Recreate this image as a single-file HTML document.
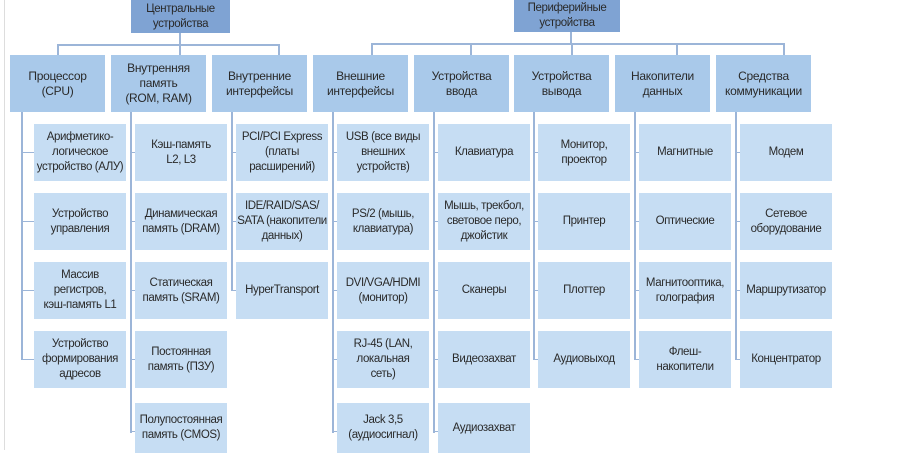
<!DOCTYPE html>
<html><head><meta charset="utf-8"><style>
body{margin:0;width:900px;height:450px;background:#fff;position:relative;overflow:hidden;font-family:"Liberation Sans","Noto Sans CJK SC",sans-serif;}
.b{position:absolute;display:flex;align-items:center;justify-content:center;text-align:center;font-size:11.5px;line-height:15px;color:#2a2a2a;letter-spacing:-0.4px;white-space:nowrap}
.t{background:#7fa3d3;}
.h{background:#a9c9ea;font-size:12px;line-height:15px;letter-spacing:-0.3px}
.c{background:#c6ddf3;}
.l{position:absolute;background:#9cb5d8;}
</style></head><body>
<div class="l" style="left:4px;top:0;width:1px;height:450px;background:#ddd"></div>
<div class="b t" style="left:131px;top:0;width:99px;height:33px">Центральные<br>устройства</div>
<div class="b t" style="left:514px;top:0;width:106px;height:32px">Периферийные<br>устройства</div>
<div class="l" style="left:179px;top:33px;width:2px;height:12px"></div>
<div class="l" style="left:57px;top:44px;width:223px;height:2px"></div>
<div class="l" style="left:570px;top:32px;width:2px;height:12px"></div>
<div class="l" style="left:371px;top:43px;width:414px;height:2px"></div>
<div id="g"></div>
<script>
var cols=[
["Процессор<br>(CPU)",["Арифметико-<br>логическое<br>устройство (АЛУ)","Устройство<br>управления","Массив<br>регистров,<br>кэш-память L1","Устройство<br>формирования<br>адресов"]],
["Внутренняя<br>память<br>(ROM, RAM)",["Кэш-память<br>L2, L3","Динамическая<br>память (DRAM)","Статическая<br>память (SRAM)","Постоянная<br>память (ПЗУ)","Полупостоянная<br>память (CMOS)"]],
["Внутренние<br>интерфейсы",["PCI/PCI Express<br>(платы<br>расширений)","IDE/RAID/SAS/<br>SATA (накопители<br>данных)","HyperTransport"]],
["Внешние<br>интерфейсы",["USB (все виды<br>внешних<br>устройств)","PS/2 (мышь,<br>клавиатура)","DVI/VGA/HDMI<br>(монитор)","RJ-45 (LAN,<br>локальная<br>сеть)","Jack 3,5<br>(аудиосигнал)"]],
["Устройства<br>ввода",["Клавиатура","Мышь, трекбол,<br>световое перо,<br>джойстик","Сканеры","Видеозахват","Аудиозахват"]],
["Устройства<br>вывода",["Монитор,<br>проектор","Принтер","Плоттер","Аудиовыход"]],
["Накопители<br>данных",["Магнитные","Оптические","Магнитооптика,<br>голография","Флеш-<br>накопители"]],
["Средства<br>коммуникации",["Модем","Сетевое<br>оборудование","Маршрутизатор","Концентратор"]]];
var xs=[10,111,212,313,414,514,615,716],stubs=[57,179,278,371,470,571,676,783],ys=[124,193,262,331,403],h="";
cols.forEach(function(c,i){var x=xs[i];
h+='<div class="b h" style="left:'+x+'px;top:55px;width:95px;height:57px">'+c[0]+'</div>';
var top=i<3?45:44;
h+='<div class="l" style="left:'+stubs[i]+'px;top:'+top+'px;width:2px;height:'+(55-top)+'px"></div>';
var lx=i==0?x+11:x+19;
var n=c[1].length,last=ys[n-1]+(n==5?30:29);
h+='<div class="l" style="left:'+lx+'px;top:112px;width:2px;height:'+(Math.min(last,452)-112)+'px"></div>';
c[1].forEach(function(t,j){var y=ys[j];var hh=(j==4?50:57);
h+='<div class="l" style="left:'+lx+'px;top:'+(y+28)+'px;width:'+(x+24-lx)+'px;height:1px"></div>';
h+='<div class="b c" style="left:'+(x+24)+'px;top:'+y+'px;width:92px;height:'+hh+'px">'+t+'</div>';});
});
document.getElementById('g').innerHTML=h;
</script>
</body></html>
